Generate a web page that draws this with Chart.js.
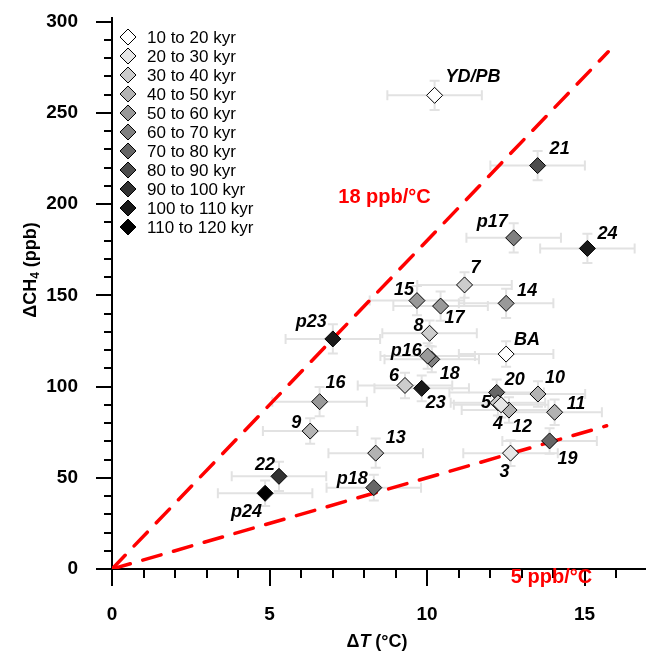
<!DOCTYPE html>
<html>
<head>
<meta charset="utf-8">
<script src="https://cdn.jsdelivr.net/npm/chart.js@4.4.0/dist/chart.umd.min.js"></script>
<style>
  html, body { margin: 0; padding: 0; background: #fff; overflow: hidden; }
  canvas { display: block; }
</style>
</head>
<body>
<canvas id="chart" width="646" height="652"></canvas>
<script>
// Age bins (legend) and their fill colours
const ageBins = ['10 to 20 kyr', '20 to 30 kyr', '30 to 40 kyr', '40 to 50 kyr', '50 to 60 kyr',
  '60 to 70 kyr', '70 to 80 kyr', '80 to 90 kyr', '90 to 100 kyr', '100 to 110 kyr', '110 to 120 kyr'];
const binColors = ['#ffffff', '#e6e6e6', '#cccccc', '#b3b3b3', '#999999',
  '#808080', '#666666', '#4d4d4d', '#333333', '#1a1a1a', '#000000'];

// Events: warming (dT, degC) vs methane rise (dCH4, ppb)
const eventNames = ['YD/PB', 'BA', '3', '4', '5', '6', '7', '8', '9', '10', '11', '12', '13', '14',
  '15', '16', '17', '18', '19', '20', '21', '22', '23', '24', 'p16', 'p17', 'p18', 'p23', 'p24'];
const deltaT = [10.24, 12.51, 12.65, 12.35, 12.25, 9.30, 11.19, 10.08, 6.29, 13.52, 14.05, 12.60, 8.37, 12.51,
  9.68, 6.59, 10.43, 10.15, 13.89, 12.21, 13.51, 5.30, 9.83, 15.09, 10.02, 12.75, 8.31, 7.01, 4.86];
const deltaCH4 = [259.6, 117.8, 63.5, 90.0, 91.1, 100.6, 155.7, 129.2, 75.6, 95.9, 85.9, 87.1, 63.5, 145.6,
  147.1, 91.7, 144.1, 114.9, 70.2, 96.8, 221.1, 50.8, 99.0, 175.7, 116.7, 181.5, 44.6, 126.1, 41.5];
const errT = [1.5, 1.5, 1.5, 1.5, 1.5, 1.5, 1.5, 1.5, 1.5, 1.5, 1.5, 1.5, 1.5, 1.5,
  1.5, 1.5, 1.5, 1.5, 1.5, 1.5, 1.5, 1.5, 1.5, 1.5, 1.5, 1.5, 1.5, 1.5, 1.5];
const errCH4 = [8, 7, 7, 7, 7, 7, 7, 7, 7, 7, 7, 7, 8, 8,
  8, 8, 8, 7, 7, 7, 8, 8, 7, 8, 7, 8, 7, 8, 7];
const ageBin = [0, 0, 1, 1, 2, 2, 2, 2, 3, 3, 3, 3, 3, 4,
  4, 4, 4, 5, 6, 6, 7, 8, 9, 9, 4, 5, 6, 9, 10];

// Axis ticks
const xTicks = [0, 1, 2, 3, 4, 5, 6, 7, 8, 9, 10, 11, 12, 13, 14, 15, 16];
const xLabelled = [0, 5, 10, 15];
const yTicks = [0, 10, 20, 30, 40, 50, 60, 70, 80, 90, 100, 110, 120, 130, 140, 150,
  160, 170, 180, 190, 200, 210, 220, 230, 240, 250, 260, 270, 280, 290, 300];
const yLabelled = [0, 50, 100, 150, 200, 250, 300];

// Reference slope lines
const line18 = [{ x: 0, y: 0 }, { x: 15.75, y: 283.5 }];
const line5 = [{ x: 0, y: 0 }, { x: 15.7, y: 78.5 }];

// Label offsets in px from the marker: [dx, dy, align]
const labelOffsets = [
  [11, -18, 'left'], [8, -14, 'left'], [-6, 19, 'center'], [-3, 19, 'center'], [-7, 0, 'right'],
  [-6, -9, 'right'], [6, -17, 'left'], [-6, -7, 'right'], [-9, -8, 'right'], [7, -16, 'left'],
  [12, -8, 'left'], [3, 17, 'left'], [10, -15, 'left'], [11, -12, 'left'], [-3, -11, 'right'],
  [6, -19, 'left'], [4, 12, 'left'], [8, 15, 'left'], [8, 18, 'left'], [8, -12, 'left'],
  [12, -17, 'left'], [-4, -11, 'right'], [4, 15, 'left'], [10, -14, 'left'], [-6, -5, 'right'],
  [-6, -16, 'right'], [-6, -9, 'right'], [-6, -17, 'right'], [-3, 19, 'right']
];

const FONT = '"Liberation Sans", Arial, sans-serif';

// One scatter dataset per age bin
const scatterSets = ageBins.map((bin, b) => {
  const pts = [];
  eventNames.forEach((name, i) => {
    if (ageBin[i] === b) {
      pts.push({ x: deltaT[i], y: deltaCH4[i], idx: i });
    }
  });
  return {
    type: 'scatter',
    label: bin,
    data: pts,
    pointStyle: 'rectRot',
    pointRadius: 8,
    pointHoverRadius: 8,
    backgroundColor: binColors[b],
    borderColor: '#000',
    borderWidth: 1,
    order: 0
  };
});

function slopeLine(data) {
  return {
    type: 'line',
    data: data,
    borderColor: '#ff0000',
    borderWidth: 3.5,
    borderDash: [19, 13],
    borderCapStyle: 'round',
    pointRadius: 0,
    fill: false,
    order: 1
  };
}

// strip the label padding chart.js reserves at the axis ends
function fitScale(size) {
  return s => {
    if (s.isHorizontal()) s.height = size; else s.width = size;
    s.paddingLeft = 0; s.paddingRight = 0; s.paddingTop = 0; s.paddingBottom = 0;
  };
}

// Custom drawing: error bars, ticks, labels, legend, axis titles
const overlay = {
  id: 'overlay',
  beforeDatasetsDraw(chart) {
    const { ctx, scales: { x, y } } = chart;
    ctx.save();
    ctx.strokeStyle = '#e2e2e2';
    ctx.lineWidth = 2;
    eventNames.forEach((name, i) => {
      const px = x.getPixelForValue(deltaT[i]);
      const py = y.getPixelForValue(deltaCH4[i]);
      const x0 = x.getPixelForValue(deltaT[i] - errT[i]);
      const x1 = x.getPixelForValue(deltaT[i] + errT[i]);
      const y0 = y.getPixelForValue(deltaCH4[i] - errCH4[i]);
      const y1 = y.getPixelForValue(deltaCH4[i] + errCH4[i]);
      ctx.beginPath();
      ctx.moveTo(x0, py); ctx.lineTo(x1, py);
      ctx.moveTo(x0, py - 5); ctx.lineTo(x0, py + 5);
      ctx.moveTo(x1, py - 5); ctx.lineTo(x1, py + 5);
      ctx.moveTo(px, y0); ctx.lineTo(px, y1);
      ctx.moveTo(px - 5, y0); ctx.lineTo(px + 5, y0);
      ctx.moveTo(px - 5, y1); ctx.lineTo(px + 5, y1);
      ctx.stroke();
    });
    ctx.restore();
  },
  afterDraw(chart) {
    const { ctx, chartArea: area, scales: { x, y } } = chart;
    ctx.save();

    // tick marks (major long, minor short)
    ctx.strokeStyle = '#000';
    ctx.lineWidth = 2;
    ctx.beginPath();
    xTicks.forEach(v => {
      const px = Math.round(x.getPixelForValue(v));
      const len = xLabelled.includes(v) ? 17 : 9;
      ctx.moveTo(px, area.bottom); ctx.lineTo(px, area.bottom + len);
    });
    yTicks.forEach(v => {
      const py = Math.round(y.getPixelForValue(v));
      const len = yLabelled.includes(v) ? 16 : 8;
      ctx.moveTo(area.left, py); ctx.lineTo(area.left - len, py);
    });
    ctx.stroke();

    // point labels
    ctx.fillStyle = '#000';
    ctx.font = 'italic bold 18px ' + FONT;
    ctx.textBaseline = 'middle';
    eventNames.forEach((name, i) => {
      const off = labelOffsets[i];
      ctx.textAlign = off[2];
      ctx.fillText(name, x.getPixelForValue(deltaT[i]) + off[0], y.getPixelForValue(deltaCH4[i]) + off[1]);
    });

    // slope labels
    ctx.fillStyle = '#ff0000';
    ctx.font = 'bold 20px ' + FONT;
    ctx.textAlign = 'center';
    ctx.fillText('18 ppb/°C', x.getPixelForValue(8.65), y.getPixelForValue(203.5));
    ctx.fillText('5 ppb/°C', x.getPixelForValue(13.95), y.getPixelForValue(-4.5));

    // legend
    ctx.font = '17px ' + FONT;
    ctx.textAlign = 'left';
    ageBins.forEach((bin, b) => {
      const cy = 37 + b * 19;
      const cx = 128;
      ctx.beginPath();
      ctx.moveTo(cx, cy - 8); ctx.lineTo(cx + 8, cy); ctx.lineTo(cx, cy + 8); ctx.lineTo(cx - 8, cy);
      ctx.closePath();
      ctx.fillStyle = binColors[b];
      ctx.fill();
      ctx.lineWidth = 1;
      ctx.strokeStyle = '#000';
      ctx.stroke();
      ctx.fillStyle = '#000';
      ctx.fillText(bin, 147, cy + 1);
    });

    // x axis title: ΔT (°C)
    ctx.textBaseline = 'middle';
    const bold = 'bold 18px ' + FONT;
    const boldIt = 'italic bold 18px ' + FONT;
    const xParts = [['\u0394', bold], ['T', boldIt], [' (°C)', bold]];
    let tw = 0;
    xParts.forEach(p => { ctx.font = p[1]; tw += ctx.measureText(p[0]).width; });
    let tx = 377 - tw / 2;
    xParts.forEach(p => {
      ctx.font = p[1];
      ctx.fillText(p[0], tx, 642);
      tx += ctx.measureText(p[0]).width;
    });

    // y axis title: ΔCH4 (ppb)
    ctx.translate(31, 270);
    ctx.rotate(-Math.PI / 2);
    const sub = 'bold 12px ' + FONT;
    const yParts = [['\u0394CH', bold, 0], ['4', sub, 5], [' (ppb)', bold, 0]];
    tw = 0;
    yParts.forEach(p => { ctx.font = p[1]; tw += ctx.measureText(p[0]).width; });
    tx = -tw / 2;
    yParts.forEach(p => {
      ctx.font = p[1];
      ctx.fillText(p[0], tx, p[2]);
      tx += ctx.measureText(p[0]).width;
    });

    ctx.restore();
  }
};

new Chart(document.getElementById('chart'), {
  data: {
    datasets: [...scatterSets, slopeLine(line18), slopeLine(line5)]
  },
  options: {
    responsive: false,
    animation: false,
    layout: { autoPadding: false, padding: { top: 18, right: 0, left: 0, bottom: 0 } },
    plugins: {
      legend: { display: false },
      tooltip: { enabled: false }
    },
    scales: {
      x: {
        type: 'linear',
        position: 'bottom',
        min: 0,
        max: 16.95,
        grid: { display: true, drawOnChartArea: false, drawTicks: false },
        border: { display: true, color: '#000', width: 2 },
        afterBuildTicks: s => { s.ticks = xTicks.map(v => ({ value: v })); },
        ticks: {
          autoSkip: false,
          maxRotation: 0,
          padding: 34,
          color: '#000',
          font: { family: FONT, size: 19, weight: 'bold' },
          callback: v => (xLabelled.includes(v) ? v : '')
        },
        afterFit: fitScale(83)
      },
      y: {
        type: 'linear',
        min: 0,
        max: 302,
        grid: { display: true, drawOnChartArea: false, drawTicks: false },
        border: { display: true, color: '#000', width: 2 },
        afterBuildTicks: s => { s.ticks = yTicks.map(v => ({ value: v })); },
        ticks: {
          autoSkip: false,
          padding: 34,
          color: '#000',
          font: { family: FONT, size: 19, weight: 'bold' },
          callback: v => (yLabelled.includes(v) ? v : '')
        },
        afterFit: fitScale(112)
      }
    }
  },
  plugins: [overlay]
});
</script>
</body>
</html>
